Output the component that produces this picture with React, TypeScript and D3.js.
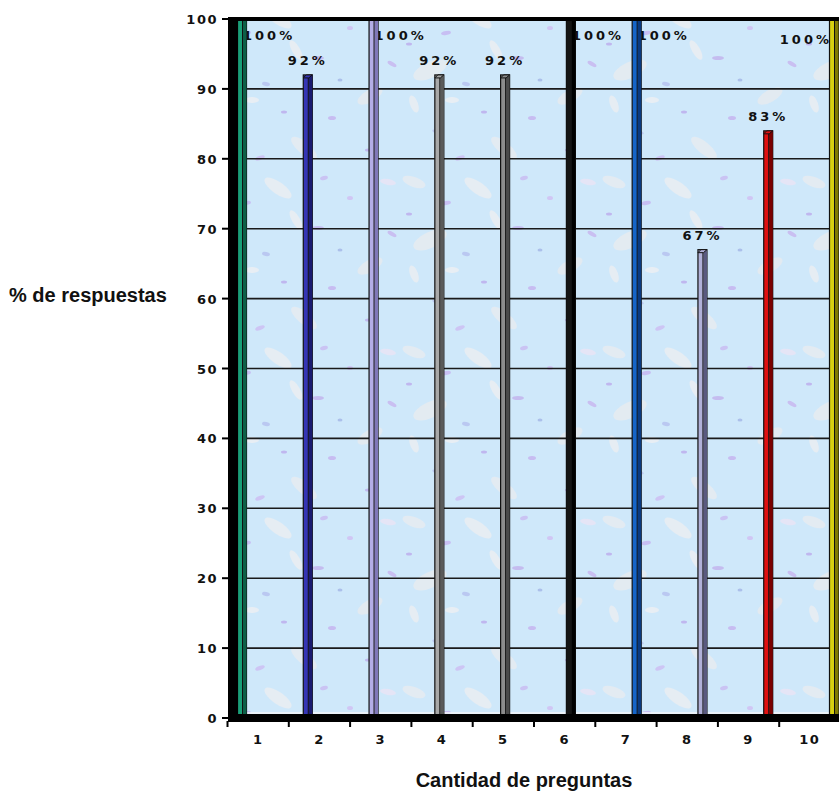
import React from 'react';
import * as d3 from 'd3';

const categories = ['1', '2', '3', '4', '5', '6', '7', '8', '9', '10'];
const values = [100, 92, 100, 92, 92, 100, 100, 67, 84, 100];
const valueLabels = ['100%', '92%', '100%', '92%', '92%', '100%', '100%', '67%', '83%', '100%'];
const barColors = ['#1a9f78', '#3535b5', '#b4aee6', '#a8a8a8', '#8c8c8c', '#151515', '#1565c8', '#b0b0d8', '#e01010', '#d8d010'];
const sideColors = ['#0d6048', '#1a1a70', '#8078b8', '#5a5a5a', '#4a4a4a', '#000000', '#0a3a80', '#5a5a80', '#7a0000', '#807a00'];
const yTicks = [0, 10, 20, 30, 40, 50, 60, 70, 80, 90, 100];

// decorative speckles for the textured background (not data)
const speckles: [number, number, number, number, number, string][] = [
  [14, 12, 12, 5, 20, '#e6ebf1'], [46, 33, 5, 2, -10, '#c6b8f2'], [78, 18, 16, 6, 35, '#eaeef2'],
  [118, 58, 6, 2, 0, '#c2b4ee'], [30, 70, 18, 8, -25, '#e6ebf0'], [66, 84, 4, 2, 10, '#b6c2f0'],
  [150, 28, 3, 2, 0, '#d0c0f4'], [9, 44, 3, 1.5, 0, '#bdaeee'], [96, 50, 11, 4, 60, '#ebeef2'],
  [170, 96, 14, 6, -30, '#e5eaf0'], [132, 118, 4, 2, 0, '#c6b4f0'], [38, 132, 6, 2, 15, '#b9c4f0'],
  [188, 12, 8, 3, 10, '#e9e4f6'], [104, 148, 16, 6, 40, '#e7ebf1'], [168, 150, 3, 1.5, 0, '#bfb0ee'],
  [60, 158, 5, 2, -20, '#cdbff4'], [140, 80, 2.5, 1.5, 0, '#a6b9e8'], [14, 104, 9, 4, 70, '#eaeef2'],
  [124, 8, 4, 2, -15, '#c9bcf2'], [84, 112, 3, 1.5, 0, '#bcaeee'], [192, 64, 5, 2, 30, '#c8b8f0'],
  [52, 100, 7, 3, 0, '#eceff3'],
];

export default function App() {
  const W = 839, H = 794;
  const left = 238, right = 839, top = 19, bottom = 718;
  const y = d3.scaleLinear().domain([0, 100]).range([bottom, top]);
  const xBar = d3.scalePoint<string>().domain(categories).range([242, 834]);
  const xAxis = d3.scaleBand<string>().domain(categories).range([227.5, 840.5]);
  const bw = 9;

  return (
    <svg width={W} height={H} style={{ display: 'block', position: 'absolute', left: 0, top: 0 }}>
      <defs>
        <pattern id="tex" width={200} height={170} patternUnits="userSpaceOnUse">
          <rect width={200} height={170} fill="#cfe8fa" />
          {speckles.map((s, i) => (
            <ellipse key={i} cx={s[0]} cy={s[1]} rx={s[2]} ry={s[3]} fill={s[5]} opacity={0.85}
              transform={`rotate(${s[4]} ${s[0]} ${s[1]})`} />
          ))}
        </pattern>
      </defs>
      <rect x={0} y={0} width={W} height={H} fill="#fff" />
      {/* plot background */}
      <rect x={left} y={top} width={right - left} height={bottom - top} fill="url(#tex)" />
      {/* gridlines */}
      {yTicks.filter(t => t > 0 && t < 100).map(t => (
        <line key={t} x1={left} x2={right} y1={y(t)} y2={y(t)} stroke="#1a1a1a" strokeWidth={1.6} />
      ))}
      {/* bottom light edge of cells */}
      <line x1={left} x2={right} y1={bottom - 5} y2={bottom - 5} stroke="#f4f6f8" strokeWidth={1.5} />
      {/* value labels (drawn before bars so bars occlude them) */}
      {categories.map((c, i) => {
        const cx = xBar(c)!;
        const v = values[i];
        const full = v >= 100;
        const last = i === categories.length - 1;
        let tx = cx, anchor: 'start' | 'middle' | 'end' = 'middle', ty = y(v) - 10;
        if (full) {
          if (last) { tx = cx - 2; anchor = 'end'; ty = 44; }
          else { tx = cx + 1; anchor = 'start'; ty = 40; }
        }
        return (
          <text key={c} x={tx} y={ty} textAnchor={anchor} fontFamily="DejaVu Sans" fontWeight="bold"
            fontSize={13} letterSpacing={3} fill="#111">{valueLabels[i]}</text>
        );
      })}
      {/* bars */}
      {categories.map((c, i) => {
        const cx = xBar(c)!;
        const v = values[i];
        const yt = y(v);
        const x0 = cx - bw / 2;
        const full = v >= 100;
        const capH = full ? 0 : 3;
        return (
          <g key={c}>
            <rect x={x0} y={yt} width={bw} height={bottom - yt} fill={barColors[i]} stroke="#111" strokeWidth={1.2} />
            <rect x={cx + 1} y={yt} width={bw / 2 - 1} height={bottom - yt} fill={sideColors[i]} />
            <line x1={cx + 0.5} x2={cx + 0.5} y1={yt + capH} y2={bottom} stroke="#111" strokeWidth={1} />
            {!full && (
              <path d={`M${x0},${yt + capH} L${x0 + 3},${yt} L${x0 + bw},${yt} L${cx + 1},${yt + capH} Z`}
                fill={barColors[i]} stroke="#111" strokeWidth={1} />
            )}
          </g>
        );
      })}
      {/* frame: left wall, top, bottom */}
      <rect x={228} y={17} width={10} height={bottom + 4 - 17} fill="#000" />
      <rect x={228} y={17} width={right - 228} height={4} fill="#000" />
      <rect x={228} y={bottom - 4} width={right - 228} height={8} fill="#000" />
      {/* y ticks and labels */}
      {yTicks.map(t => (
        <g key={t}>
          <line x1={222} x2={229} y1={y(t)} y2={y(t)} stroke="#000" strokeWidth={2} />
          <text x={218} y={y(t) + 5} textAnchor="end" fontFamily="DejaVu Sans" fontWeight="bold"
            fontSize={13} letterSpacing={1.5} fill="#111">{t}</text>
        </g>
      ))}
      {/* x ticks and labels */}
      {categories.map(c => (
        <g key={c}>
          <line x1={xAxis(c)! + xAxis.bandwidth()} x2={xAxis(c)! + xAxis.bandwidth()} y1={bottom + 3} y2={bottom + 9}
            stroke="#000" strokeWidth={2} />
          <text x={xAxis(c)! + xAxis.bandwidth() / 2} y={744} textAnchor="middle" fontFamily="DejaVu Sans"
            fontWeight="bold" fontSize={13} letterSpacing={1.5} fill="#111">{c}</text>
        </g>
      ))}
      <line x1={xAxis('1')!} x2={xAxis('1')!} y1={bottom + 3} y2={bottom + 9} stroke="#000" strokeWidth={2} />
      {/* axis titles */}
      <text x={9} y={302} fontFamily="Liberation Sans" fontWeight="bold" fontSize={20} fill="#111">% de respuestas</text>
      <text x={524} y={787} textAnchor="middle" fontFamily="Liberation Sans" fontWeight="bold" fontSize={20}
        fill="#111">Cantidad de preguntas</text>
    </svg>
  );
}
